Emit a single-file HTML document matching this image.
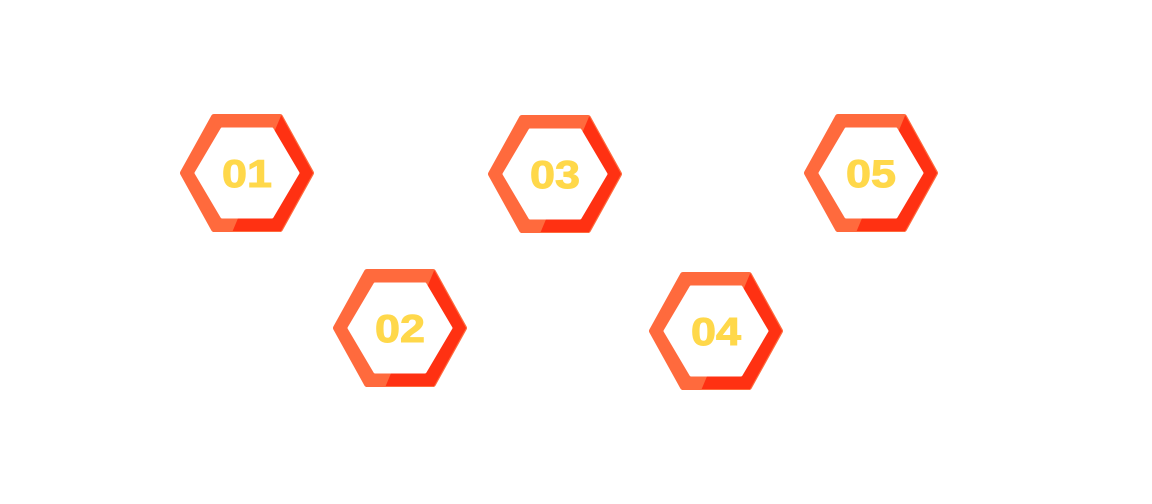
<!DOCTYPE html>
<html><head><meta charset="utf-8"><style>
html,body{margin:0;padding:0;background:#fff;}
svg{display:block;}
text{font-family:"Liberation Sans",sans-serif;font-weight:bold;fill:#FFD84A;stroke:#FFD84A;stroke-width:1;}
</style></head><body>
<svg width="1152" height="504" viewBox="0 0 1152 504" xmlns="http://www.w3.org/2000/svg">
<defs>
<clipPath id="hc"><polygon points="-66,0 -34,-58 34,-58 66,0 34,58 -34,58"/></clipPath>
<g id="hex">
 <polygon points="-64,0 -33,-56 33,-56 64,0 33,56 -33,56" fill="#FF6A3D" stroke="#FF6A3D" stroke-width="6" stroke-linejoin="round"/>
 <g clip-path="url(#hc)">
  <polygon points="36,-62 80,-62 80,70 -14,70 -16,62" fill="#FF3112"/>
 </g>
 <polygon points="-51,0 -25,-44 25,-44 51,0 25,44 -25,44" fill="#fff" stroke="#fff" stroke-width="3" stroke-linejoin="round"/>
</g>
</defs>
<g transform="translate(247,173)"><use href="#hex"/><text x="0" y="14" font-size="39" text-anchor="middle" textLength="50" lengthAdjust="spacingAndGlyphs">01</text></g>
<g transform="translate(555,174)"><use href="#hex"/><text x="0" y="14" font-size="39" text-anchor="middle" textLength="50" lengthAdjust="spacingAndGlyphs">03</text></g>
<g transform="translate(871,173)"><use href="#hex"/><text x="0" y="14" font-size="39" text-anchor="middle" textLength="50" lengthAdjust="spacingAndGlyphs">05</text></g>
<g transform="translate(400,328)"><use href="#hex"/><text x="0" y="14" font-size="39" text-anchor="middle" textLength="50" lengthAdjust="spacingAndGlyphs">02</text></g>
<g transform="translate(716,331)"><use href="#hex"/><text x="0" y="14" font-size="39" text-anchor="middle" textLength="50" lengthAdjust="spacingAndGlyphs">04</text></g>
</svg>
</body></html>
